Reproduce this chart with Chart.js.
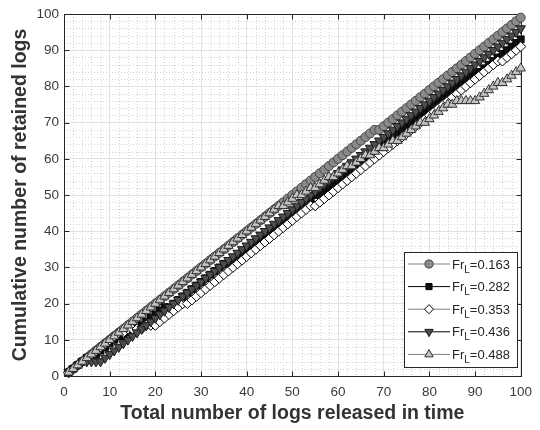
<!DOCTYPE html>
<html>
<head>
<meta charset="utf-8">
<script src="https://cdn.jsdelivr.net/npm/chart.js@4.4.1/dist/chart.umd.min.js"></script>
<style>
  html, body { margin: 0; padding: 0; background: #fff; }
  #wrap { width: 540px; height: 430px; }
</style>
</head>
<body>
<div id="wrap"><canvas id="chart" width="540" height="430"></canvas></div>
<script>
// logs released (x), 1..100
const released = [
  1, 2, 3, 4, 5, 6, 7, 8, 9, 10, 11, 12, 13, 14, 15, 16, 17, 18, 19, 20,
  21, 22, 23, 24, 25, 26, 27, 28, 29, 30, 31, 32, 33, 34, 35, 36, 37, 38, 39, 40,
  41, 42, 43, 44, 45, 46, 47, 48, 49, 50, 51, 52, 53, 54, 55, 56, 57, 58, 59, 60,
  61, 62, 63, 64, 65, 66, 67, 68, 69, 70, 71, 72, 73, 74, 75, 76, 77, 78, 79, 80,
  81, 82, 83, 84, 85, 86, 87, 88, 89, 90, 91, 92, 93, 94, 95, 96, 97, 98, 99, 100
];

// cumulative retained logs, one list per Froude number
const fr163 = [
  1, 2, 3, 4, 5, 6, 7, 8, 9, 10, 11, 12, 13, 14, 15, 16, 17, 18, 19, 20,
  21, 22, 23, 24, 25, 26, 27, 28, 29, 30, 31, 32, 33, 34, 35, 36, 37, 38, 39, 40,
  41, 42, 43, 44, 45, 46, 47, 48, 49, 50, 51, 52, 53, 54, 55, 56, 57, 58, 59, 60,
  61, 62, 63, 64, 65, 66, 67, 68, 68, 69, 70, 71, 72, 73, 74, 75, 76, 77, 78, 79,
  80, 81, 82, 83, 84, 85, 86, 87, 88, 89, 90, 91, 92, 93, 94, 95, 96, 97, 98, 99
];
const fr282 = [
  1, 2, 3, 4, 5, 5, 6, 7, 8, 9, 10, 11, 11, 12, 13, 13, 14, 15, 16, 17,
  18, 19, 19, 20, 21, 22, 23, 24, 25, 26, 27, 28, 29, 30, 31, 31, 32, 33, 34, 35,
  36, 37, 38, 39, 40, 41, 42, 43, 44, 45, 46, 47, 48, 49, 50, 50, 51, 52, 53, 54,
  55, 56, 57, 58, 59, 60, 61, 62, 63, 64, 65, 66, 67, 68, 69, 70, 71, 72, 73, 74,
  75, 76, 77, 78, 79, 80, 81, 82, 83, 84, 84, 85, 86, 87, 88, 89, 90, 91, 92, 93
];
const fr353 = [
  1, 2, 3, 4, 5, 6, 7, 8, 9, 10, 11, 12, 12, 13, 13, 13, 13, 14, 14, 14,
  15, 16, 17, 18, 19, 20, 20, 21, 22, 23, 24, 25, 26, 27, 28, 29, 30, 31, 32, 33,
  34, 35, 36, 37, 38, 39, 40, 41, 42, 43, 44, 45, 46, 47, 47, 48, 49, 50, 51, 52,
  53, 54, 55, 56, 57, 58, 59, 60, 61, 62, 63, 64, 65, 66, 67, 68, 69, 70, 71, 72,
  73, 74, 75, 76, 77, 78, 79, 80, 81, 82, 83, 84, 85, 86, 87, 87, 88, 89, 90, 91
];
const fr436 = [
  1, 2, 3, 4, 4, 4, 4, 4, 5, 6, 7, 8, 9, 10, 11, 12, 13, 14, 15, 16,
  17, 18, 19, 20, 21, 22, 23, 24, 25, 26, 27, 28, 29, 30, 31, 32, 33, 34, 35, 36,
  37, 38, 39, 40, 41, 42, 43, 44, 45, 46, 47, 48, 49, 50, 51, 52, 53, 54, 55, 56,
  57, 58, 59, 60, 61, 62, 63, 64, 65, 66, 67, 68, 69, 70, 71, 72, 73, 74, 75, 76,
  77, 78, 79, 80, 81, 82, 83, 84, 85, 86, 87, 88, 89, 90, 91, 92, 93, 94, 95, 96
];
const fr488 = [
  1, 2, 3, 4, 5, 6, 7, 8, 9, 10, 11, 12, 13, 14, 15, 16, 17, 18, 19, 20,
  21, 22, 23, 24, 25, 26, 27, 28, 29, 30, 31, 32, 33, 34, 35, 36, 37, 38, 39, 40,
  41, 42, 43, 44, 45, 46, 47, 47, 48, 49, 50, 50, 51, 52, 52, 53, 54, 55, 55, 56,
  57, 58, 58, 59, 60, 61, 61, 62, 63, 63, 64, 65, 65, 66, 67, 68, 69, 70, 70, 71,
  72, 73, 74, 75, 75, 76, 76, 76, 76, 76, 77, 78, 79, 80, 81, 81, 82, 83, 84, 85
];

const frLabels = ['0.163', '0.282', '0.353', '0.436', '0.488'];
const xTicks = [0, 10, 20, 30, 40, 50, 60, 70, 80, 90, 100];
const yTicks = [0, 10, 20, 30, 40, 50, 60, 70, 80, 90, 100];

const axisColor = '#262626';
const fontFamily = '"Liberation Sans", Arial, Helvetica, sans-serif';

const pointsOf = (ys) => released.map((x, i) => ({ x, y: ys[i] }));

const series = [
  { data: fr163, line: '#808080', fill: '#8a8a8a', edge: '#474747', style: 'circle', radius: 4.5, rot: 0 },
  { data: fr282, line: '#000000', fill: '#111111', edge: '#000000', style: 'rect', radius: 4.8, rot: 0 },
  { data: fr353, line: '#808080', fill: '#ffffff', edge: '#000000', style: 'rectRot', radius: 5, rot: 0 },
  { data: fr436, line: '#000000', fill: '#4d4d4d', edge: '#1a1a1a', style: 'triangle', radius: 5.4, rot: 180 },
  { data: fr488, line: '#808080', fill: '#c4c4c4', edge: '#333333', style: 'triangle', radius: 5.4, rot: 0 },
];

const datasets = series.map((s, i) => ({
  label: 'Fr_L=' + frLabels[i],
  data: pointsOf(s.data),
  borderColor: s.line,
  borderWidth: 1,
  pointStyle: s.style,
  pointRadius: s.radius,
  pointRotation: s.rot,
  pointBackgroundColor: s.fill,
  pointBorderColor: s.edge,
  pointBorderWidth: 1,
  pointHoverRadius: s.radius,
  tension: 0,
  clip: false,
  order: series.length - i, // later series drawn on top, like the original
}));

// dotted minor grid, box and inward ticks
const axesBox = {
  id: 'axesBox',
  beforeDatasetsDraw(chart) {
    const { ctx, chartArea: a, scales: { x, y } } = chart;
    ctx.save();
    ctx.strokeStyle = '#d3d3d3';
    ctx.lineWidth = 1;
    ctx.setLineDash([1, 2]);
    for (let v = 2; v < 100; v += 2) {
      if (v % 10 === 0) continue;
      const px = Math.round(x.getPixelForValue(v)) + 0.5;
      const py = Math.round(y.getPixelForValue(v)) + 0.5;
      ctx.beginPath(); ctx.moveTo(px, a.top); ctx.lineTo(px, a.bottom); ctx.stroke();
      ctx.beginPath(); ctx.moveTo(a.left, py); ctx.lineTo(a.right, py); ctx.stroke();
    }
    ctx.setLineDash([]);
    ctx.strokeStyle = axisColor;
    const L = Math.round(a.left) + 0.5, R = Math.round(a.right) + 0.5;
    const T = Math.round(a.top) + 0.5, B = Math.round(a.bottom) + 0.5;
    ctx.strokeRect(L, T, R - L, B - T);
    ctx.beginPath();
    xTicks.forEach(v => {
      const px = Math.round(x.getPixelForValue(v)) + 0.5;
      ctx.moveTo(px, B); ctx.lineTo(px, B - 5);
      ctx.moveTo(px, T); ctx.lineTo(px, T + 5);
    });
    yTicks.forEach(v => {
      const py = Math.round(y.getPixelForValue(v)) + 0.5;
      ctx.moveTo(L, py); ctx.lineTo(L + 5, py);
      ctx.moveTo(R, py); ctx.lineTo(R - 5, py);
    });
    ctx.stroke();
    ctx.restore();
  }
};

// legend with subscript L
const frLegend = {
  id: 'frLegend',
  afterDraw(chart) {
    const { ctx } = chart;
    const bx = 404.5, by = 252.5, bw = 113, bh = 115;
    ctx.save();
    ctx.fillStyle = '#fff';
    ctx.fillRect(bx, by, bw, bh);
    ctx.strokeStyle = axisColor;
    ctx.lineWidth = 1;
    ctx.strokeRect(bx, by, bw, bh);
    series.forEach((s, i) => {
      const ry = 264 + i * 22.6;
      ctx.strokeStyle = s.line;
      ctx.beginPath(); ctx.moveTo(408, ry); ctx.lineTo(450, ry); ctx.stroke();
      ctx.fillStyle = s.fill;
      ctx.strokeStyle = s.edge;
      Chart.helpers.drawPoint(ctx, { pointStyle: s.style, radius: s.radius * 0.9, rotation: s.rot, borderWidth: 1 }, 429, ry);
      ctx.fillStyle = axisColor;
      ctx.textBaseline = 'alphabetic';
      ctx.textAlign = 'left';
      let tx = 452;
      const base = ry + 4.5;
      ctx.font = '13px ' + fontFamily;
      ctx.fillText('Fr', tx, base);
      tx += ctx.measureText('Fr').width;
      ctx.font = '10px ' + fontFamily;
      ctx.fillText('L', tx, base + 4);
      tx += ctx.measureText('L').width;
      ctx.font = '13px ' + fontFamily;
      ctx.fillText('=' + frLabels[i], tx, base);
    });
    ctx.restore();
  }
};

const tickFont = { family: fontFamily, size: 13.5 };
const titleFont = { family: fontFamily, size: 19.5, weight: 'bold' };

new Chart(document.getElementById('chart'), {
  type: 'line',
  data: { datasets },
  options: {
    responsive: false,
    animation: false,
    devicePixelRatio: 1,
    layout: { padding: { top: 14, right: 13, left: 0, bottom: 0 } },
    plugins: { legend: { display: false }, tooltip: { enabled: false } },
    scales: {
      x: {
        type: 'linear',
        min: 0,
        max: 100,
        afterBuildTicks: (s) => { s.ticks = xTicks.map(v => ({ value: v })); },
        afterFit: (s) => { s.height = 54; },
        ticks: { color: '#3a3a3a', font: tickFont, padding: 8, maxRotation: 0 },
        grid: { color: '#e2e2e2', drawTicks: false },
        border: { display: false },
        title: {
          display: true,
          text: 'Total number of logs released in time',
          color: '#333333',
          font: titleFont,
          padding: { top: 0, bottom: 5 },
        },
      },
      y: {
        type: 'linear',
        min: 0,
        max: 100,
        afterBuildTicks: (s) => { s.ticks = yTicks.map(v => ({ value: v })); },
        afterFit: (s) => { s.width = 64; },
        ticks: { color: '#3a3a3a', font: tickFont, padding: 5 },
        grid: { color: '#e2e2e2', drawTicks: false },
        border: { display: false },
        title: {
          display: true,
          text: 'Cumulative number of retained logs',
          color: '#333333',
          font: titleFont,
          padding: { top: 9, bottom: 0 },
        },
      },
    },
  },
  plugins: [axesBox, frLegend],
});
</script>
</body>
</html>
